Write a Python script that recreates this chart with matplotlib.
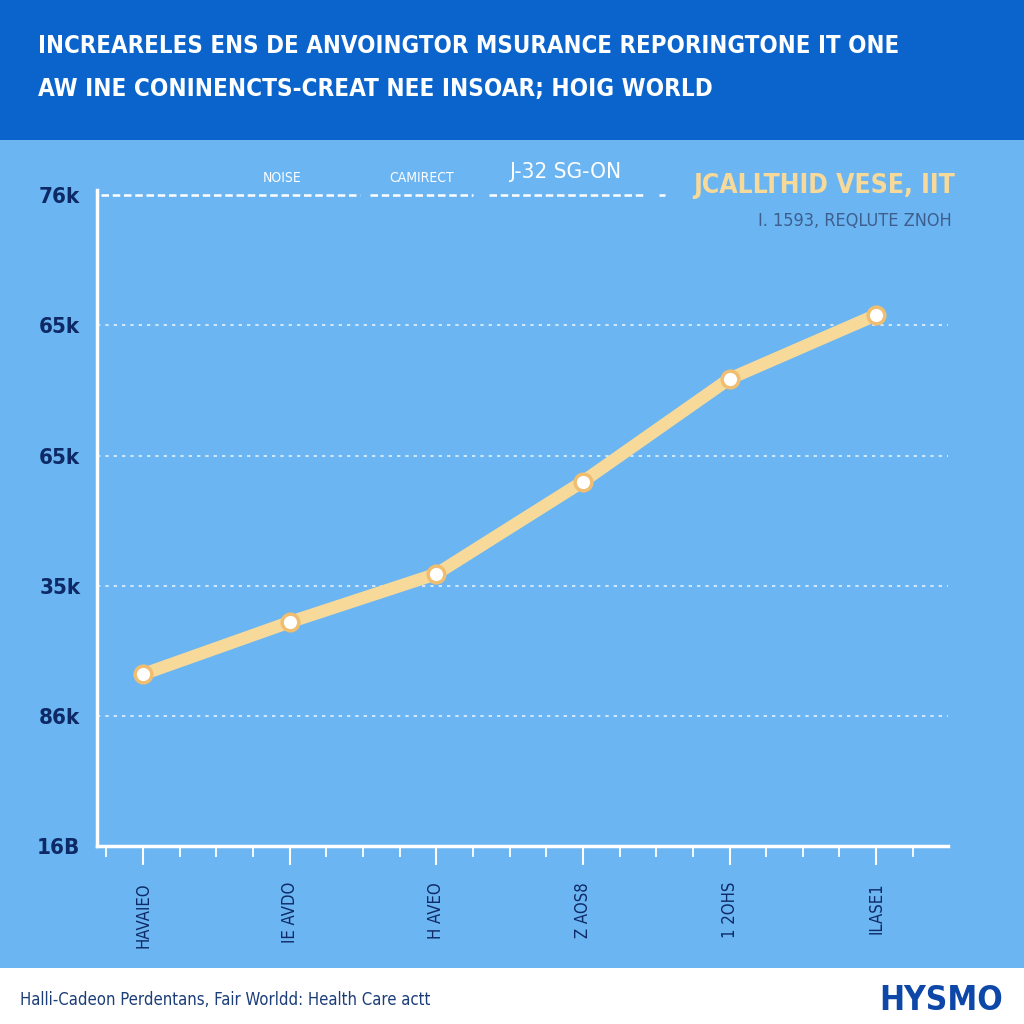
import matplotlib
matplotlib.use("Agg")
import matplotlib.pyplot as plt
from matplotlib.patches import Rectangle

# ---- data ----
x_labels = ["HAVAIEO", "IE AVDO", "H AVEO", "Z AOS8", "1 2OHS", "ILASE1"]
values = [1.32, 1.72, 2.09, 2.80, 3.59, 4.08]
y_ticks = [0, 1, 2, 3, 4, 5]
y_labels = ["16B", "86k", "35k", "65k", "65k", "76k"]
title_lines = ["INCREARELES ENS DE ANVOINGTOR MSURANCE REPORINGTONE IT ONE",
               "AW INE CONINENCTS-CREAT NEE INSOAR; HOIG WORLD"]
top_labels = ["NOISE", "CAMIRECT", "J-32 SG-ON"]
note_main = "JCALLTHID VESE, IIT"
note_sub = "I. 1593, REQLUTE ZNOH"
footer = "Halli-Cadeon Perdentans, Fair Worldd: Health Care actt"
logo = "HYSMO"

HEADER = "#0A64CC"
BODY = "#6BB5F2"
LINE = "#F7DA9A"
NAVY = "#0E2A66"
FAM = "DejaVu Sans"
ST = "condensed"

fig = plt.figure(figsize=(10.24, 10.24), dpi=100)
fig.patch.set_facecolor(BODY)
fig.patches.append(Rectangle((0, 1 - 140/1024), 1, 140/1024, transform=fig.transFigure,
                             facecolor=HEADER, edgecolor="none", zorder=0))
fig.patches.append(Rectangle((0, 0), 1, 56/1024, transform=fig.transFigure,
                             facecolor="white", edgecolor="none", zorder=0))

renderer = fig.canvas.get_renderer()


def fit(t, width_px):
    bb = t.get_window_extent(renderer=renderer)
    if bb.width > 0:
        t.set_fontsize(t.get_fontsize() * width_px / bb.width)
    return t


t1 = fig.text(38/1024, 1 - 46/1024, title_lines[0], color="white", fontsize=27, fontweight="bold",
              family=FAM, fontstretch=ST, va="center", ha="left")
fit(t1, 860)
t2 = fig.text(38/1024, 1 - 89/1024, title_lines[1], color="white", fontsize=27, fontweight="bold",
              family=FAM, fontstretch=ST, va="center", ha="left")
fit(t2, 675)

ax = fig.add_axes([97/1024, 1 - 846/1024, 851/1024, (846 - 190)/1024])
ax.set_facecolor("none")
xs = list(range(len(values)))
ax.set_xlim(-0.314, 5.49)
ax.set_ylim(0, 5.04)

for s in ["top", "right"]:
    ax.spines[s].set_visible(False)
for s in ["left", "bottom"]:
    ax.spines[s].set_color("white")
    ax.spines[s].set_linewidth(2.5)

for yt in y_ticks[1:5]:
    ax.axhline(yt, color="white", lw=1.2, ls=(0, (2, 3)), alpha=0.8, zorder=1)
for a, b in [(-0.29, 1.48), (1.55, 2.25), (2.36, 3.43), (3.52, 3.56)]:
    ax.plot([a, b], [5, 5], color="white", lw=1.8, ls=(0, (3, 1.5)), zorder=1, clip_on=False)

ax.plot(xs, values, color=LINE, lw=9, solid_capstyle="round", zorder=3)
ax.plot(xs, values, ls="none", marker="o", ms=12, mfc="white", mec="#F0BE70", mew=2.5, zorder=4)

ax.set_yticks(y_ticks)
ax.set_yticklabels(y_labels, family=FAM, fontstretch=ST, fontweight="bold", fontsize=16, color=NAVY)
ax.tick_params(axis="y", length=0, pad=12)
ax.set_xticks(xs)
ax.set_xticklabels(x_labels, rotation=90, family=FAM, fontstretch=ST, fontsize=12, color=NAVY)
ax.tick_params(axis="x", length=14, width=1.5, color="white", pad=12)
ax.set_xticks([i / 4.0 - 0.25 for i in range(23)], minor=True)
ax.tick_params(axis="x", which="minor", length=8, width=1.3, color="white")

ax.text(0.95, 5.13, top_labels[0], color="white", fontsize=10, family=FAM, fontstretch=ST,
        ha="center", va="center")
ax.text(1.9, 5.13, top_labels[1], color="white", fontsize=10, family=FAM, fontstretch=ST,
        ha="center", va="center")
tl = ax.text(2.88, 5.18, top_labels[2], color="white", fontsize=18, family=FAM, fontstretch=ST,
             ha="center", va="center")
fit(tl, 112)

n1 = fig.text(955/1024, 1 - 186/1024, note_main, color=LINE, fontsize=24, fontweight="bold",
              family=FAM, fontstretch=ST, ha="right", va="center")
fit(n1, 262)
n2 = fig.text(952/1024, 1 - 221/1024, note_sub, color="#3E5E8E", fontsize=16,
              family=FAM, fontstretch=ST, ha="right", va="center")
fit(n2, 195)

f1 = fig.text(20/1024, 1 - 1000/1024, footer, color="#1C3E78", fontsize=14, family=FAM,
              fontstretch=ST, ha="left", va="center")
fit(f1, 412)
fig.text(1003/1024, 1 - 1000/1024, logo, color="#0D47A8", fontsize=24, fontweight="bold",
         family=FAM, fontstretch=ST, ha="right", va="center")

fig.savefig("out.png", dpi=100, facecolor=fig.get_facecolor())
